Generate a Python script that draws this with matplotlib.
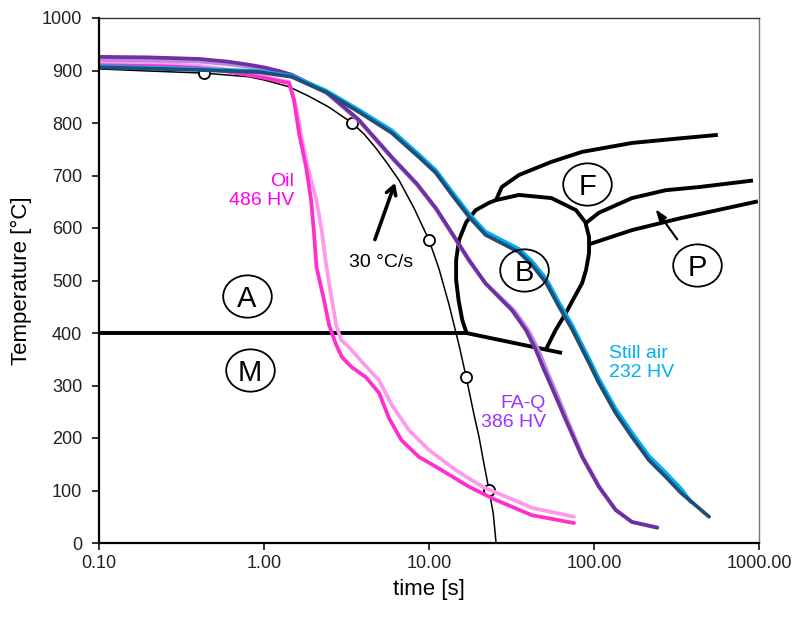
import numpy as np
import matplotlib.pyplot as plt
from matplotlib.path import Path

plt.rcParams['font.family'] = ['Liberation Sans', 'DejaVu Sans']

# 30 °C/s reference cooling curve (black, thin) and its circle marks
ref_t = [0.1, 0.201, 0.433, 0.811, 1.0, 1.42, 1.87, 2.48, 3.42, 4.04, 4.77, 5.56, 6.58,
         8.11, 10.0, 11.5, 13.2, 15.2, 16.8, 18.7, 20.1, 21.5, 23.1, 24.5, 25.5]
ref_T = [903, 899, 895, 888, 882, 869, 851, 830, 800, 779, 752, 724, 691,
         638, 577, 522, 455, 377, 316, 246, 202, 152, 101, 57, 0]
mark_t = [0.433, 3.42, 10.0, 16.8, 23.1]
mark_T = [895, 800, 577, 316, 101]

# oil quench (two measurements)
oil_t = [0.1, 0.25, 0.404, 0.6, 0.93, 1.42, 1.52, 1.63, 1.80, 1.93, 2.01, 2.08, 2.31, 2.48,
         2.74, 2.97, 3.40, 4.14, 4.98, 5.72, 6.8, 8.69, 11.9, 17.5, 25.4, 42.0, 75.7]
oil_T = [910, 908, 905, 898, 888, 876, 844, 781, 716, 653, 590, 526, 463, 415,
         377, 354, 335, 316, 286, 238, 196, 164, 139, 107, 82, 53, 38]
oil2_t = [0.1, 0.25, 0.404, 0.6, 0.93, 1.42, 1.58, 1.67, 1.84, 2.08, 2.25, 2.39, 2.58, 2.74,
          2.93, 3.27, 3.92, 4.98, 5.95, 7.56, 10.0, 14.5, 21.1, 30.5, 42.0, 75.7]
oil2_T = [914, 912, 909, 902, 891, 878, 825, 781, 716, 653, 590, 526, 463, 415,
          387, 373, 345, 310, 263, 215, 177, 139, 107, 86, 67, 50]

# forced air + quench (two measurements)
faq_t = [0.1, 0.2, 0.404, 0.6, 0.811, 1.0, 1.233, 1.47, 2.37, 3.76, 5.95, 8.46, 11.0, 13.8,
         17.5, 21.9, 27.6, 31.7, 38.6, 44.4, 49.8, 58.1, 67.5, 84.7, 107, 135, 170, 242]
faq_T = [926, 925, 922, 917, 911, 906, 899, 892, 860, 806, 735, 684, 638, 590,
         539, 495, 463, 444, 406, 368, 330, 282, 234, 164, 107, 63, 40, 29]
faq2_t = [0.1, 0.2, 0.404, 0.6, 0.811, 1.0, 1.233, 1.47, 2.37, 3.76, 5.95, 8.46, 11.0, 13.8,
          17.5, 22.3, 28.6, 33.0, 40.2, 46.3, 51.8, 60.2, 69.5, 86.0, 108, 136, 170, 242]
faq2_T = [920, 919, 917, 912, 907, 902, 896, 889, 858, 804, 733, 682, 636, 588,
          537, 493, 461, 442, 404, 366, 328, 280, 232, 163, 107, 63, 40, 30]

# still air (two measurements)
air_t = [0.1, 0.404, 0.93, 1.47, 2.37, 3.76, 5.95, 8.69, 11.0, 13.8, 17.5, 22.0, 27.6,
         35.1, 42.0, 51.4, 61.4, 74, 93.3, 107, 135, 170, 215, 272, 338, 498]
air_T = [906, 901, 897, 888, 859, 821, 781, 735, 705, 663, 621, 587, 571,
         554, 530, 495, 450, 406, 343, 305, 248, 202, 158, 126, 95, 50]
air2_t = [0.1, 0.404, 0.93, 1.47, 2.37, 3.76, 5.95, 8.69, 11.0, 13.8, 17.5, 22.0, 27.6,
          35.1, 42.0, 51.4, 61.4, 74, 93.3, 107, 135, 170, 215, 272, 338, 387]
air2_T = [908, 903, 899, 890, 862, 825, 786, 740, 710, 669, 627, 593, 577,
          560, 537, 503, 458, 414, 351, 313, 256, 210, 166, 134, 103, 78]

# CCT diagram lines
ms_t = [0.1, 16.8, 64]
ms_T = [400, 400, 362]
bain_t = [16.8, 15.9, 15.1, 14.6, 14.6, 15.2, 16.8, 19.2, 23.1, 25.4, 35.1, 55.2, 77.8,
          88.6, 93.3, 93.3, 89.5, 84.7, 75.7, 67.5, 58.6, 51.9]
bain_T = [402, 425, 463, 501, 539, 577, 611, 634, 648, 653, 663, 657, 634,
          611, 583, 552, 520, 495, 467, 438, 406, 373]
ferr_t = [25.8, 27.6, 35.1, 55.2, 84.7, 170, 338, 548]
ferr_T = [657, 678, 701, 726, 745, 762, 771, 777]
pup_t = [90.6, 107, 170, 272, 433, 895]
pup_T = [611, 629, 657, 672, 678, 690]
plo_t = [95.5, 170, 338, 958]
plo_T = [570, 596, 619, 650]

# phase region labels
regions = ['A', 'M', 'B', 'F', 'P']
region_t = [0.789, 0.823, 37.7, 90.7, 421]
region_T = [470, 330, 520, 684, 530]

fig = plt.figure(figsize=(7.96, 6.26), dpi=100)
ax = fig.add_axes([99 / 796, 83 / 626, 660 / 796, 525 / 626])

lw_cct = 2.8
ax.plot(ms_t, ms_T, color='black', lw=lw_cct, solid_capstyle='butt')
ax.plot(bain_t, bain_T, color='black', lw=lw_cct, solid_joinstyle='round')
ax.plot(ferr_t, ferr_T, color='black', lw=lw_cct, solid_joinstyle='round')
ax.plot(pup_t, pup_T, color='black', lw=lw_cct, solid_joinstyle='round')
ax.plot(plo_t, plo_T, color='black', lw=lw_cct)

ax.plot(ref_t, ref_T, color='black', lw=1.1)
ax.plot(mark_t, mark_T, 'o', ms=8, mfc='white', mec='black', mew=1.3)

lw = 2.7
kw = dict(lw=lw, solid_capstyle='round', solid_joinstyle='round')
ax.plot(oil2_t, oil2_T, color='#FF99EE', **kw)
ax.plot(oil_t, oil_T, color='#FF2FCC', **kw)
ax.plot(faq2_t, faq2_T, color='#B98CE0', **kw)
ax.plot(faq_t, faq_T, color='#7030A0', **kw)
ax.plot(air2_t, air2_T, color='#00B0F0', **kw)
ax.plot(air_t, air_T, color='#1F4E79', **kw)

# ellipse marker for the region labels
uc = Path.unit_circle()
ell = Path(uc.vertices * [1.0, 0.87], uc.codes)
ax.plot(region_t, region_T, linestyle='none', marker=ell, ms=35, mfc='none',
        mec='black', mew=1.3)
for lab, t, T in zip(regions, region_t, region_T):
    ax.text(t, T, lab, fontsize=21, ha='center', va='center_baseline', color='black')

# arrows
ax.annotate('', xy=(6.31, 691), xytext=(4.64, 573),
            arrowprops=dict(arrowstyle='->,head_length=0.6,head_width=0.35', lw=2.6, color='black'))
ax.annotate('', xy=(231, 640), xytext=(327, 574),
            arrowprops=dict(arrowstyle='-|>,head_length=0.7,head_width=0.25', lw=1.5, color='black'))

ax.text(3.27, 535, '30 °C/s', fontsize=14, ha='left', va='center')
ax.text(1.52, 670, 'Oil\n486 HV', fontsize=14, ha='right', va='center', color='#FF00EE',
        linespacing=1.15)
ax.text(51.2, 247, 'FA-Q\n386 HV', fontsize=14, ha='right', va='center', color='#9933FF',
        linespacing=1.15)
ax.text(123, 343, 'Still air\n232 HV', fontsize=14, ha='left', va='center', color='#00B0F0',
        linespacing=1.15)

ax.set_xscale('log')
ax.set_xlim(0.1, 1000)
ax.set_ylim(0, 1000)
ax.set_xticks([0.1, 1, 10, 100, 1000])
ax.set_xticklabels(['0.10', '1.00', '10.00', '100.00', '1000.00'])
ax.minorticks_off()
ax.set_yticks(np.arange(0, 1001, 100))
ax.tick_params(labelsize=13, length=5, width=1.3, direction='out', colors='#222222')
ax.tick_params(axis='y', pad=7)
ax.set_xlabel('time [s]', fontsize=16, labelpad=5)
ax.set_ylabel('Temperature [°C]', fontsize=16, labelpad=7)

ax.spines['left'].set_linewidth(1.6)
ax.spines['bottom'].set_linewidth(1.6)
ax.spines['top'].set_linewidth(1.0)
ax.spines['top'].set_color('#333333')
ax.spines['right'].set_linewidth(1.0)
ax.spines['right'].set_color('#777777')

fig.savefig('out.png', dpi=100)
